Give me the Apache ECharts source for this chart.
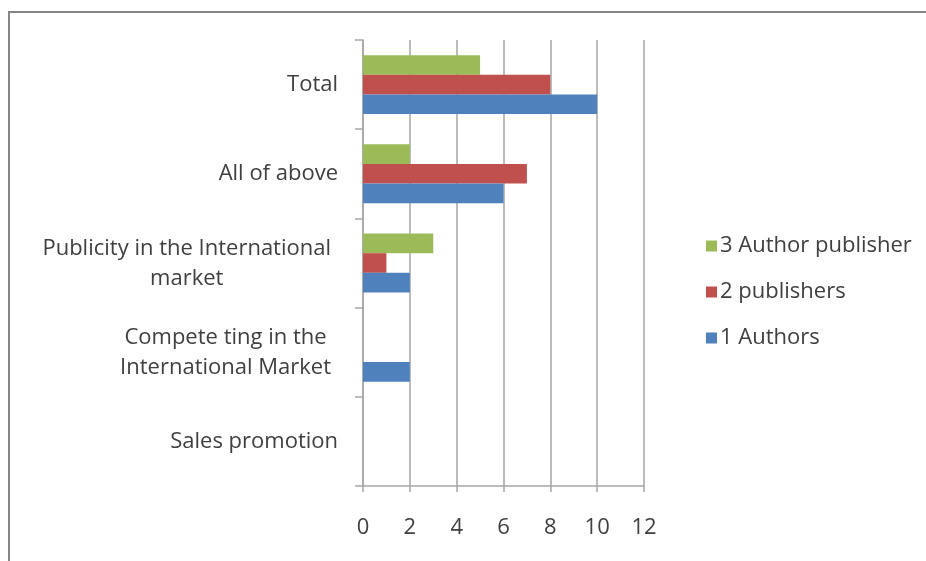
<!DOCTYPE html>
<html>
<head>
<meta charset="utf-8">
<script src="https://cdn.jsdelivr.net/npm/echarts@6/dist/echarts.min.js"></script>
<style>
  html, body { margin: 0; padding: 0; background: #ffffff; }
  #chart { width: 926px; height: 561px; }
</style>
</head>
<body>
<div id="chart"></div>
<script>
// Categories listed bottom to top along the vertical axis
var categories = [
  'Sales promotion',
  'Compete ting in the\nInternational Market',
  'Publicity in the International\nmarket',
  'All of above',
  'Total'
];
var authors = [0, 2, 2, 6, 10];
var publishers = [0, 0, 1, 7, 8];
var authorPublisher = [0, 0, 3, 2, 5];
var xTicks = { min: 0, max: 12, interval: 2 };

var FONT = '"Open Sans", "Noto Sans", sans-serif';
var FONT_SIZE = 22;
var TEXT_COLOR = '#404040';
var GRID_COLOR = '#a6a6a6';

var chart = echarts.init(document.getElementById('chart'), null, { renderer: 'canvas' });

chart.setOption({
  backgroundColor: '#ffffff',
  animation: false,
  graphic: [{
    type: 'rect',
    shape: { x: 9, y: 12, width: 1000, height: 700 },
    style: { fill: 'none', stroke: '#858585', lineWidth: 2 },
    silent: true
  }],
  grid: { left: 363, top: 40, right: 282, bottom: 75, containLabel: false },
  legend: {
    orient: 'vertical',
    left: 701,
    top: 230,
    itemWidth: 11,
    itemHeight: 11,
    itemGap: 24,
    icon: 'rect',
    data: ['3 Author publisher', '2 publishers', '1 Authors'],
    textStyle: { fontFamily: FONT, fontSize: FONT_SIZE, lineHeight: 20, color: TEXT_COLOR, padding: [0, 0, 0, -2] }
  },
  xAxis: {
    type: 'value',
    min: xTicks.min,
    max: xTicks.max,
    interval: xTicks.interval,
    axisLine: { show: true, lineStyle: { color: GRID_COLOR, width: 1.5 } },
    axisTick: { show: true, length: 6, lineStyle: { color: GRID_COLOR, width: 1.5 } },
    splitLine: { show: true, lineStyle: { color: GRID_COLOR, width: 1.5 } },
    axisLabel: { margin: 31, fontFamily: FONT, fontSize: FONT_SIZE, color: TEXT_COLOR }
  },
  yAxis: {
    type: 'category',
    data: categories,
    axisLine: { show: true, lineStyle: { color: GRID_COLOR, width: 1.5 } },
    axisTick: { show: true, length: 8, lineStyle: { color: GRID_COLOR, width: 1.5 } },
    axisLabel: {
      margin: 25,
      fontFamily: FONT,
      fontSize: FONT_SIZE,
      color: TEXT_COLOR,
      align: 'right',
      lineHeight: 30,
      formatter: function (v) {
        var lines = v.split('\n');
        // wrapped labels: lines centred within the block, block pulled in a little
        var key = lines.length > 1 ? 'm' : 'c';
        return lines.map(function (l) { return '{' + key + '|' + l + '}'; }).join('\n');
      },
      rich: {
        c: { align: 'center', fontFamily: FONT, fontSize: FONT_SIZE, color: TEXT_COLOR, lineHeight: 30 },
        m: { align: 'center', fontFamily: FONT, fontSize: FONT_SIZE, color: TEXT_COLOR, lineHeight: 30, padding: [2, 7, 0, 0] }
      }
    }
  },
  series: [
    {
      name: '3 Author publisher', type: 'bar', data: authorPublisher,
      itemStyle: { color: '#9bbb59' }, barGap: '0%', barCategoryGap: '34%'
    },
    {
      name: '2 publishers', type: 'bar', data: publishers,
      itemStyle: { color: '#c0504d' }, barGap: '0%', barCategoryGap: '34%'
    },
    {
      name: '1 Authors', type: 'bar', data: authors,
      itemStyle: { color: '#4f81bd' }, barGap: '0%', barCategoryGap: '34%'
    }
  ]
});
</script>
</body>
</html>
